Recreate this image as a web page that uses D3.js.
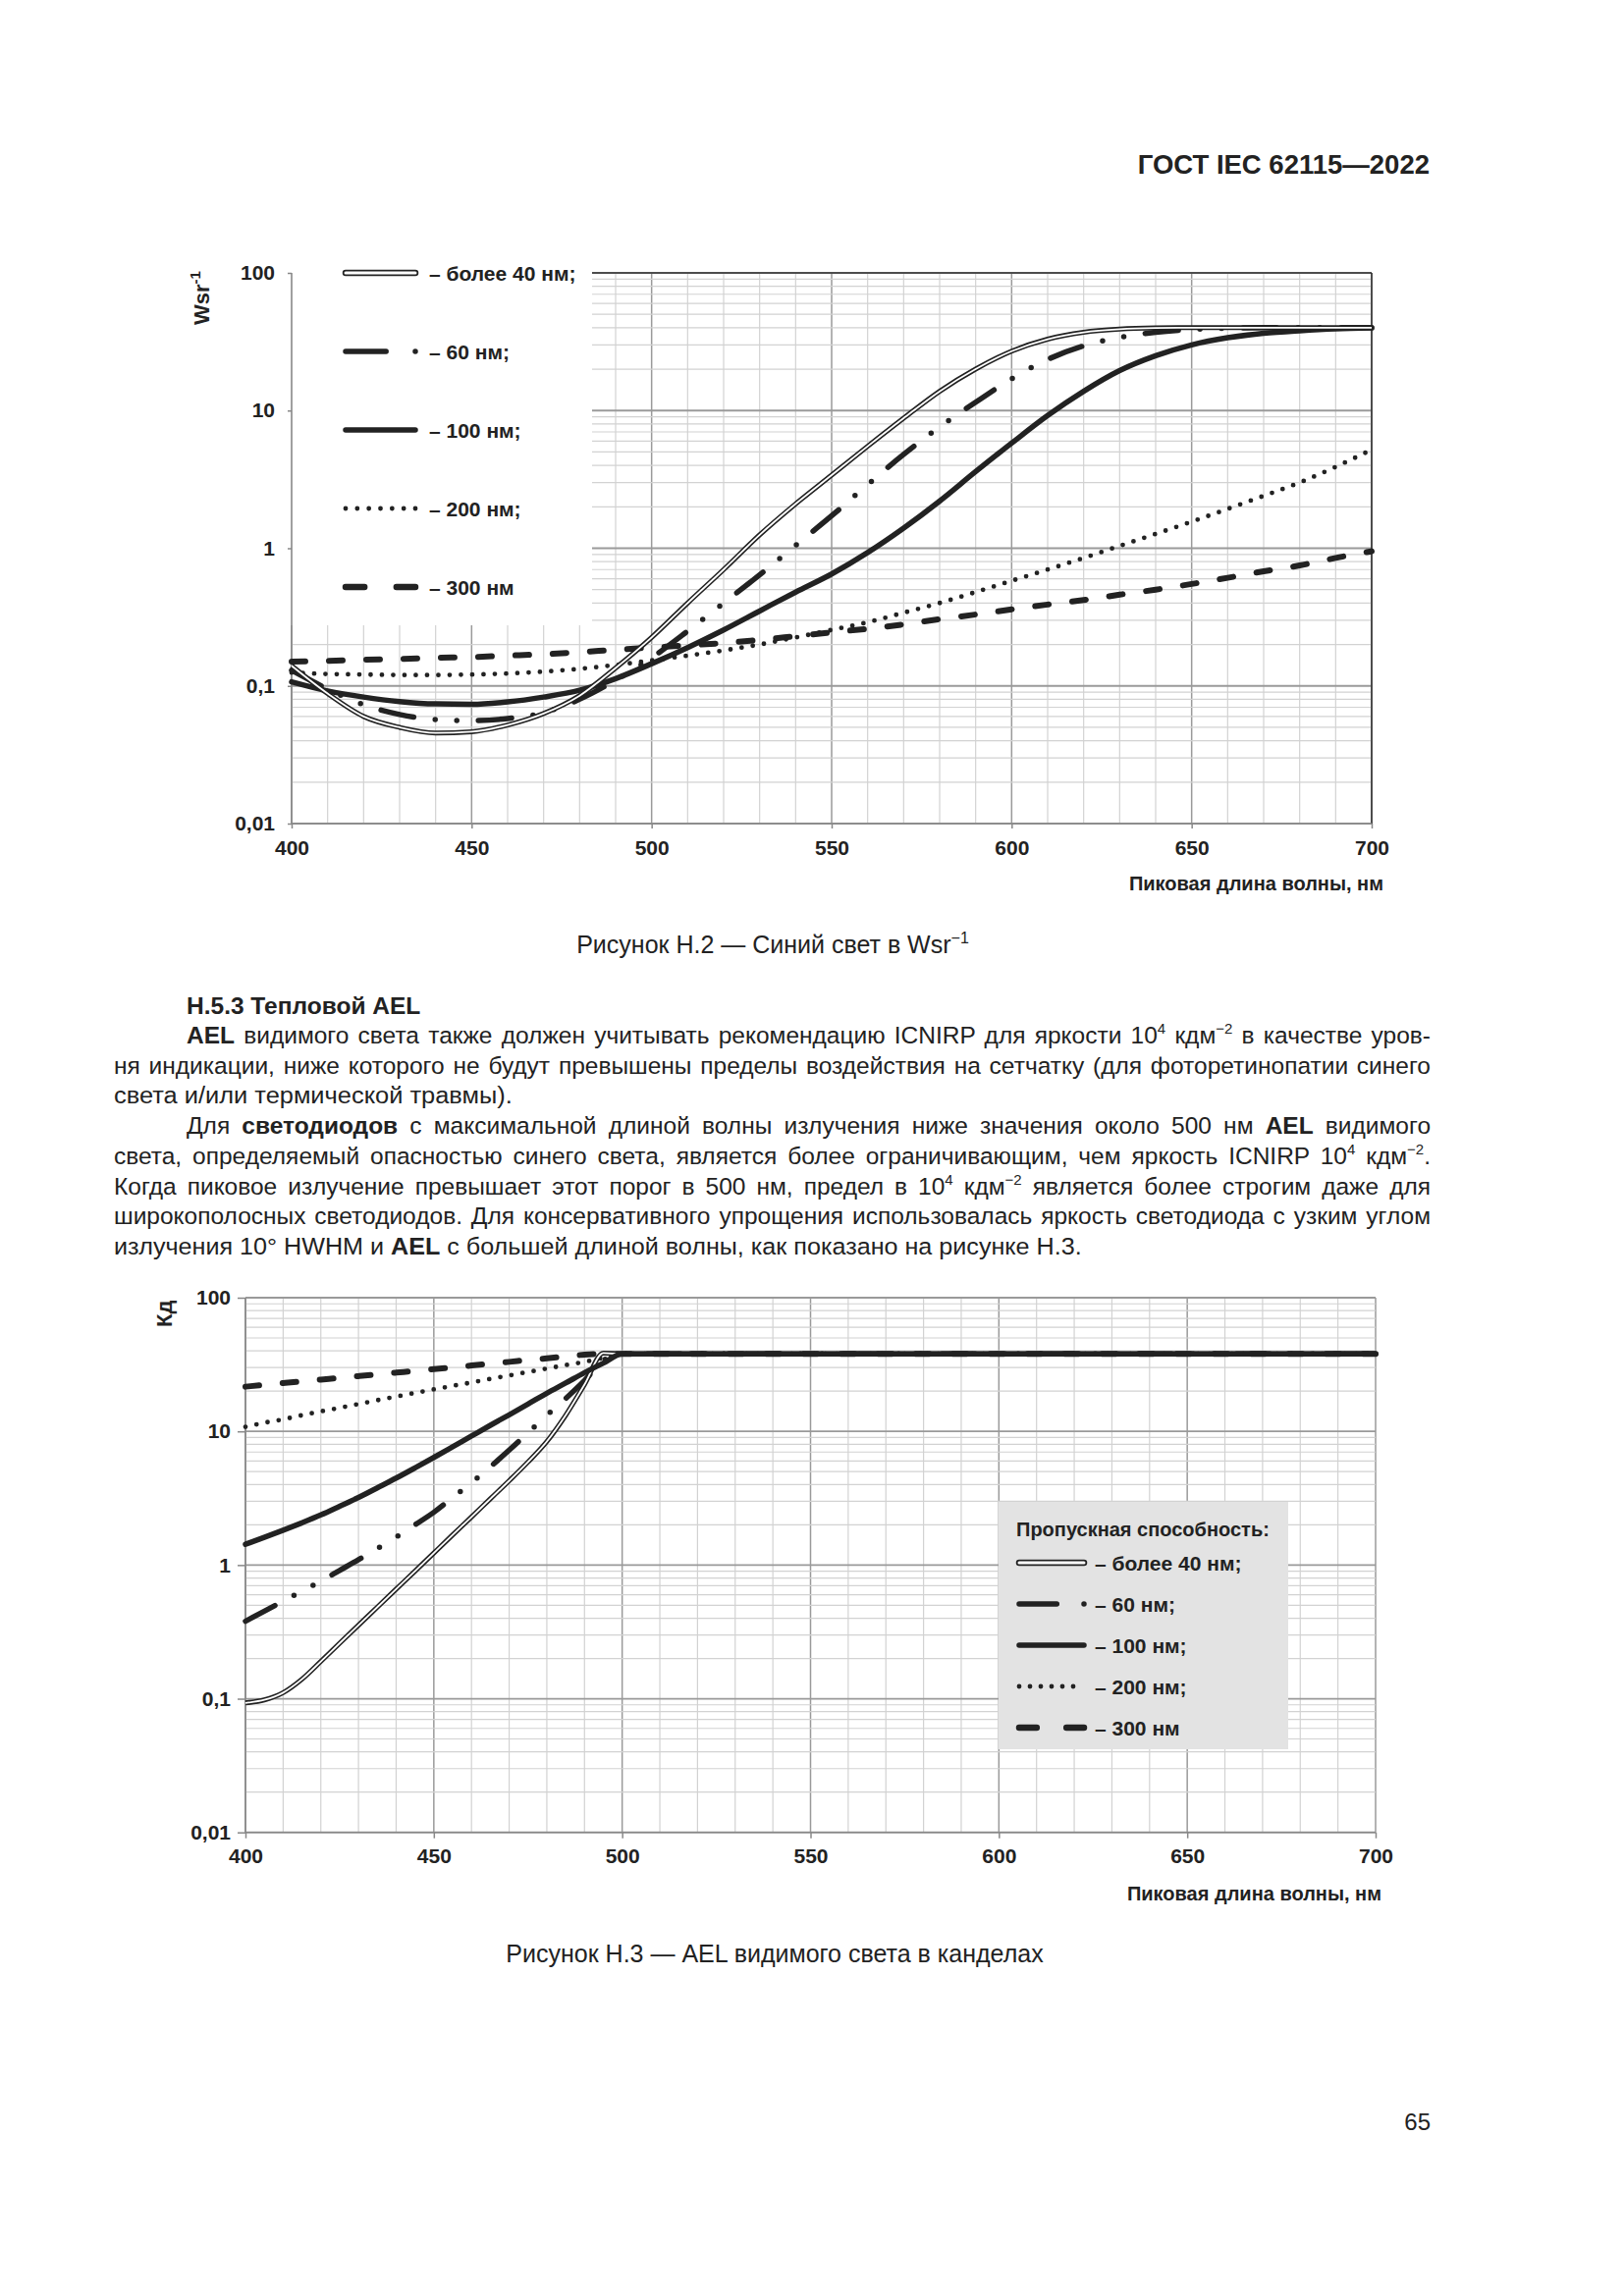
<!DOCTYPE html>
<html><head><meta charset="utf-8">
<script src="https://cdn.jsdelivr.net/npm/d3@7"></script>
<style>
html,body{margin:0;padding:0;background:#fff;}
svg{display:block;}
text{font-family:"Liberation Sans",Arial,sans-serif;}
</style></head><body>
<svg id="page" width="1654" height="2339"></svg>
<script>
// ---------- DATA ----------
// Figure H.2 (Wsr^-1), wavelengths 400..700 step 10
const wlH2 = [400,410,420,430,440,450,460,470,480,490,500,510,520,530,540,550,560,570,580,590,600,610,620,630,640,650,660,670,680,690,700];
const h2Over40 = [0.14,0.088,0.06,0.05,0.0455,0.0465,0.052,0.063,0.085,0.135,0.225,0.40,0.70,1.25,2.1,3.4,5.5,8.8,13.8,20,27,33,37,39,39.8,40,40,40,40,40,40];
const h2Nm60   = [0.13,0.095,0.073,0.062,0.057,0.056,0.058,0.064,0.08,0.11,0.16,0.25,0.40,0.64,1.05,1.72,2.9,4.8,7.6,11.5,17,23.5,29.5,34,37,38.8,39.6,40,40,40,40];
const h2Nm100  = [0.107,0.092,0.083,0.077,0.074,0.0735,0.0765,0.083,0.093,0.113,0.145,0.19,0.255,0.35,0.48,0.65,0.93,1.4,2.2,3.6,5.8,9.2,13.8,19.5,25,30,33.8,36.4,38,39.2,39.8];
const h2Nm200  = [0.125,0.122,0.121,0.12,0.12,0.121,0.123,0.127,0.133,0.142,0.153,0.166,0.181,0.20,0.225,0.255,0.29,0.34,0.40,0.48,0.58,0.70,0.85,1.04,1.27,1.56,1.93,2.4,3.0,3.9,5.2];
const h2Nm300  = [0.15,0.152,0.155,0.157,0.16,0.162,0.166,0.17,0.176,0.183,0.19,0.197,0.205,0.216,0.23,0.245,0.26,0.28,0.305,0.33,0.36,0.39,0.42,0.46,0.50,0.55,0.61,0.68,0.75,0.85,0.95];

// Figure H.3 (cd), wavelengths 400..500 step 5, then 700
const wlH3 = [400,405,410,415,420,425,430,435,440,445,450,455,460,465,470,475,480,485,490,495,500,700];
const h3Over40 = [0.093,0.098,0.111,0.14,0.19,0.26,0.355,0.484,0.66,0.90,1.23,1.68,2.29,3.13,4.27,5.9,8.4,13.2,22.4,38.5,38,38];
const h3Nm60   = [0.38,0.452,0.537,0.638,0.759,0.912,1.096,1.33,1.62,2.0,2.48,3.2,4.12,5.43,7.24,9.77,13.2,17.6,24,33.9,38,38];
const h3Nm100  = [1.43,1.61,1.82,2.07,2.37,2.75,3.2,3.78,4.47,5.33,6.38,7.67,9.23,11.1,13.3,16.0,19.3,23.0,27.5,32.4,38,38];
const h3Nm200  = [10.8,11.6,12.3,13.2,14.1,15.0,16.0,17.1,18.2,19.4,20.6,21.9,23.2,24.7,26.2,27.8,29.5,31.3,33.1,35.5,38,38];
const h3Nm300  = [21.6,22.3,23.0,23.7,24.4,25.1,25.9,26.7,27.5,28.3,29.2,30.1,31.1,32.1,33.1,34.2,35.2,36.4,37.5,38,38,38];

const yTickVals   = [0.01,0.1,1,10,100];
const yTickLabels = ["0,01","0,1","1","10","100"];
const xTickVals   = [400,450,500,550,600,650,700];
const seriesLabels = ["– более 40 нм;","– 60 нм;","– 100 нм;","– 200 нм;","– 300 нм"];
const seriesKeys   = ["double","dashdot","solid","dotted","dashed"];

// ---------- STYLE ----------
const INK = "#222";
const FONT = '"Liberation Sans",Arial,sans-serif';
const styles = {
  solid:   {w:5.5, dash:null},
  dashdot: {w:5.5, dash:"34,22,0,22,0,22"},
  dotted:  {w:4.8, dash:"0,11.5"},
  dashed:  {w:6,   dash:"14,24"},
};

const svg = d3.select("#page");
svg.append("rect").attr("width",1654).attr("height",2339).attr("fill","#fff");

function drawGrid(g, x, y, x0, x1, y0, y1) {
  d3.range(400, 701, 10).forEach(v => {
    const major = v % 50 === 0;
    g.append("line").attr("x1", x(v)).attr("x2", x(v)).attr("y1", y0).attr("y2", y1)
      .attr("stroke", major ? "#9a9a9a" : "#d2d2d2").attr("stroke-width", major ? 1.5 : 1.2);
  });
  y.ticks().forEach(v => {
    const lg = Math.log10(v);
    const major = Math.abs(lg - Math.round(lg)) < 1e-9;
    g.append("line").attr("x1", x0).attr("x2", x1).attr("y1", y(v)).attr("y2", y(v))
      .attr("stroke", major ? "#9a9a9a" : "#d2d2d2").attr("stroke-width", major ? 1.8 : 1.2);
  });
}

function drawSeries(g, x, y, wl, vals, key, cw) {
  const pts = wl.map((w, i) => [w, vals[i]]);
  const line = d3.line().x(d => x(d[0])).y(d => y(d[1])).curve(d3.curveMonotoneX);
  if (key === "double") {
    g.append("path").attr("d", line(pts)).attr("fill","none").attr("stroke",INK).attr("stroke-width", cw.outer);
    g.append("path").attr("d", line(pts)).attr("fill","none").attr("stroke","#fff").attr("stroke-width", cw.inner);
  } else {
    const s = styles[key];
    const p = g.append("path").attr("d", line(pts)).attr("fill","none").attr("stroke",INK)
      .attr("stroke-width", s.w).attr("stroke-linecap","round").attr("stroke-linejoin","round");
    if (s.dash) p.attr("stroke-dasharray", s.dash);
  }
}

function legendSample(g, key, xs, xe, yy, dblOuter, dblInner) {
  const L = xe - xs;
  const base = () => g.append("line").attr("x1",xs).attr("x2",xe).attr("y1",yy).attr("y2",yy).attr("stroke",INK).attr("stroke-linecap","round");
  if (key === "double") {
    base().attr("stroke-width",dblOuter);
    g.append("line").attr("x1",xs).attr("x2",xe).attr("y1",yy).attr("y2",yy).attr("stroke","#fff").attr("stroke-width",dblInner).attr("stroke-linecap","round");
  } else if (key === "solid") {
    base().attr("stroke-width",5.5);
  } else if (key === "dashdot") {
    base().attr("stroke-width",5.5).attr("stroke-dasharray", `${L*0.58},${L*0.42-0.01},0,200`);
  } else if (key === "dotted") {
    base().attr("stroke-width",4.8).attr("stroke-dasharray", `0,${L/6}`);
  } else if (key === "dashed") {
    base().attr("stroke-width",6.5).attr("stroke-dasharray", `${L*0.27},${L*0.46},${L*0.27},200`);
  }
}

function styleAxis(ax) {
  ax.select(".domain").remove();
  ax.selectAll(".tick line").attr("stroke","#888").attr("stroke-width",1.5);
  ax.selectAll(".tick text").attr("fill",INK).attr("font-size",21).attr("font-weight","bold").attr("font-family",FONT);
}

// ---------- HEADER ----------
svg.append("text").attr("x",1456).attr("y",177).attr("text-anchor","end").attr("font-size",27.5)
  .attr("font-weight","bold").attr("fill",INK).text("ГОСТ IEC 62115—2022");

// ---------- FIGURE H.2 ----------
{
  const X0=297, X1=1397, YT=278, YB=839;
  const x = d3.scaleLinear().domain([400,700]).range([X0,X1]);
  const y = d3.scaleLog().domain([0.01,100]).range([YB,YT]);
  const g = svg.append("g");
  drawGrid(g, x, y, X0, X1, YT, YB);
  g.append("rect").attr("x",X0-2).attr("y",YT-10).attr("width",603-X0+2).attr("height",637-YT+10).attr("fill","#fff");
  g.append("line").attr("x1",603).attr("x2",X1).attr("y1",YT).attr("y2",YT).attr("stroke","#333").attr("stroke-width",1.6);
  g.append("line").attr("x1",X1).attr("x2",X1).attr("y1",YT).attr("y2",YB).attr("stroke","#333").attr("stroke-width",1.6);
  g.append("line").attr("x1",X0).attr("x2",X0).attr("y1",YT).attr("y2",YB).attr("stroke","#888").attr("stroke-width",1.6);
  g.append("line").attr("x1",X0).attr("x2",X1).attr("y1",YB).attr("y2",YB).attr("stroke","#888").attr("stroke-width",1.6);
  const ay = g.append("g").attr("transform",`translate(${X0},0)`)
    .call(d3.axisLeft(y).tickValues(yTickVals).tickFormat((d,i)=>yTickLabels[i]).tickSize(4).tickPadding(13));
  styleAxis(ay);
  const ax = g.append("g").attr("transform",`translate(0,${YB})`)
    .call(d3.axisBottom(x).tickValues(xTickVals).tickFormat(d=>String(d)).tickSize(5).tickPadding(12));
  styleAxis(ax);
  const cw = {outer:5, inner:1.8};
  drawSeries(g, x, y, wlH2, h2Nm300, "dashed", cw);
  drawSeries(g, x, y, wlH2, h2Nm200, "dotted", cw);
  drawSeries(g, x, y, wlH2, h2Nm100, "solid", cw);
  drawSeries(g, x, y, wlH2, h2Nm60, "dashdot", cw);
  drawSeries(g, x, y, wlH2, h2Over40, "double", cw);
  seriesKeys.forEach((k,i) => {
    const yy = 278 + i*80;
    legendSample(g, k, 352, 423, yy, 6.5, 3);
    g.append("text").attr("x",437).attr("y",yy+7.5).attr("font-size",21).attr("font-weight","bold").attr("fill",INK).text(seriesLabels[i]);
  });
  const yl = g.append("text").attr("transform","translate(213,331) rotate(-90)").attr("font-size",22).attr("font-weight","bold").attr("fill",INK);
  yl.append("tspan").text("Wsr");
  yl.append("tspan").attr("dy",-9).attr("font-size",15).text("-1");
  g.append("text").attr("x",1409).attr("y",907).attr("text-anchor","end").attr("font-size",20).attr("font-weight","bold").attr("fill",INK).text("Пиковая длина волны, нм");
}

// caption H.2
{
  const t = svg.append("text").attr("x",787).attr("y",971).attr("text-anchor","middle").attr("font-size",25).attr("fill",INK);
  t.append("tspan").text("Рисунок Н.2 — Синий свет в Wsr");
  t.append("tspan").attr("dy",-10).attr("font-size",16).text("−1");
}

// ---------- BODY TEXT ----------
const bodyLines = [
  {x:190, end:1457, j:true,  segs:[["AEL","b"],[" видимого света также должен учитывать рекомендацию ICNIRP для яркости  10","n"],["4","s"],[" кдм","n"],["−2","s"],[" в качестве уров-","n"]]},
  {x:116, end:1457, j:true,  segs:[["ня индикации, ниже которого не будут превышены пределы воздействия на сетчатку (для фоторетинопатии синего","n"]]},
  {x:116, end:522,  j:false, segs:[["света и/или термической травмы).","n"]]},
  {x:190, end:1457, j:true,  segs:[["Для ","n"],["светодиодов","b"],[" с максимальной длиной волны излучения ниже значения около  500 нм ","n"],["AEL","b"],[" видимого","n"]]},
  {x:116, end:1457, j:true,  segs:[["света, определяемый опасностью синего света, является более ограничивающим, чем яркость ICNIRP 10","n"],["4","s"],[" кдм","n"],["−2","s"],[".","n"]]},
  {x:116, end:1457, j:true,  segs:[["Когда пиковое излучение превышает этот порог в 500 нм, предел в 10","n"],["4","s"],[" кдм","n"],["−2","s"],[" является более строгим даже для","n"]]},
  {x:116, end:1457, j:true,  segs:[["широкополосных светодиодов. Для консервативного упрощения использовалась яркость светодиода с узким углом","n"]]},
  {x:116, end:1102, j:false, segs:[["излучения 10° HWHM и ","n"],["AEL","b"],[" с большей длиной волны, как показано на рисунке Н.3.","n"]]},
];
svg.append("text").attr("x",190).attr("y",1033).attr("font-size",24.5).attr("font-weight","bold").attr("fill",INK).text("Н.5.3 Тепловой AEL");
bodyLines.forEach((ln, i) => {
  const by = 1063 + i*30.7;
  const g = svg.append("g").attr("transform",`translate(${ln.x},${by})`);
  const t = g.append("text").attr("x",0).attr("y",0).attr("font-size",24.5).attr("fill",INK);
  let raised = false;
  ln.segs.forEach(([s, st]) => {
    const ts = t.append("tspan").text(s);
    if (st === "s") { ts.attr("font-size",15).attr("dy", raised ? 0 : -10); raised = true; }
    else { if (raised) { ts.attr("dy", 10); raised = false; } if (st === "b") ts.attr("font-weight","bold"); }
  });
  const target = ln.end - ln.x;
  const len = t.node().getComputedTextLength();
  if (ln.j && len < target) {
    const full = ln.segs.map(s=>s[0]).join("").replace(/ +/g," ");
    const n = (full.match(/ /g) || []).length;
    t.attr("word-spacing", (target - len) / n);
  } else {
    g.attr("transform",`translate(${ln.x},${by}) scale(${target/len},1)`);
  }
});

// ---------- FIGURE H.3 ----------
{
  const X0=250, X1=1401, YT=1322, YB=1866.7;
  const x = d3.scaleLinear().domain([400,700]).range([X0,X1]);
  const y = d3.scaleLog().domain([0.01,100]).range([YB,YT]);
  const g = svg.append("g");
  drawGrid(g, x, y, X0, X1, YT, YB);
  g.append("line").attr("x1",X0).attr("x2",X0).attr("y1",YT).attr("y2",YB).attr("stroke","#888").attr("stroke-width",1.6);
  g.append("line").attr("x1",X0).attr("x2",X1).attr("y1",YB).attr("y2",YB).attr("stroke","#888").attr("stroke-width",1.6);
  const ay = g.append("g").attr("transform",`translate(${X0},0)`)
    .call(d3.axisLeft(y).tickValues(yTickVals).tickFormat((d,i)=>yTickLabels[i]).tickSize(8).tickPadding(7));
  styleAxis(ay);
  const ax = g.append("g").attr("transform",`translate(0,${YB})`)
    .call(d3.axisBottom(x).tickValues(xTickVals).tickFormat(d=>String(d)).tickSize(6).tickPadding(10));
  styleAxis(ax);
  g.append("rect").attr("x",1017).attr("y",1530).attr("width",295).attr("height",252).attr("fill","#e3e3e3");
  const cw = {outer:5, inner:1.8};
  drawSeries(g, x, y, wlH3, h3Nm300, "dashed", cw);
  drawSeries(g, x, y, wlH3, h3Nm200, "dotted", cw);
  drawSeries(g, x, y, wlH3, h3Nm60, "dashdot", cw);
  drawSeries(g, x, y, wlH3, h3Over40, "double", cw);
  drawSeries(g, x, y, wlH3, h3Nm100, "solid", cw);
  g.append("text").attr("x",1035).attr("y",1565).attr("font-size",20).attr("font-weight","bold").attr("fill",INK).text("Пропускная способность:");
  seriesKeys.forEach((k,i) => {
    const yy = 1592 + i*42;
    legendSample(g, k, 1038, 1104, yy, 6.5, 3);
    g.append("text").attr("x",1115).attr("y",yy+7.5).attr("font-size",21).attr("font-weight","bold").attr("fill",INK).text(seriesLabels[i]);
  });
  g.append("text").attr("transform","translate(175,1352) rotate(-90)").attr("font-size",22).attr("font-weight","bold").attr("fill",INK).text("Кд");
  g.append("text").attr("x",1407).attr("y",1936).attr("text-anchor","end").attr("font-size",20).attr("font-weight","bold").attr("fill",INK).text("Пиковая длина волны, нм");
}

// caption H.3
svg.append("text").attr("x",789).attr("y",1999).attr("text-anchor","middle").attr("font-size",25).attr("fill",INK)
  .text("Рисунок Н.3 — AEL видимого света в канделах");

// page number
svg.append("text").attr("x",1457).attr("y",2170).attr("text-anchor","end").attr("font-size",24).attr("fill",INK).text("65");
</script>
</body></html>
